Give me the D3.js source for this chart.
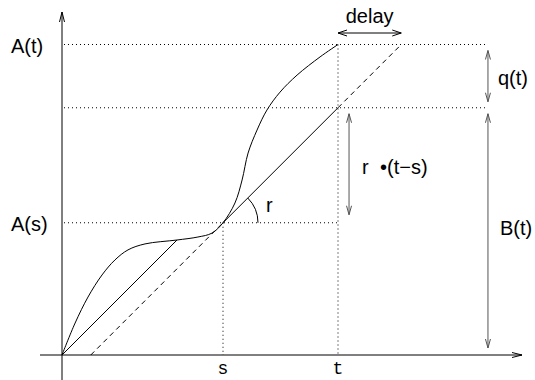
<!DOCTYPE html>
<html>
<head>
<meta charset="utf-8">
<script src="https://cdn.jsdelivr.net/npm/d3@7"></script>
<style>
  body { margin: 0; background: #fff; }
  text { font-family: "Liberation Sans", Arial, sans-serif; fill: #000; }
  .mono { font-family: "Liberation Mono", "Courier New", monospace; }
</style>
</head>
<body>
<div id="graph"></div>
<script>
// time instants on the x axis
const timeMarks = [
  { label: "s", value: 7 },
  { label: "t", value: 12 }
];
// levels on the y axis
const levelMarks = [
  { label: "A(s)", value: 5.75 },
  { label: "", value: 10.75 },
  { label: "A(t)", value: 13.5 }
];
const rate = 1;
// cumulative arrival curve A(x)
const arrivalCurve = [
  [0, 0], [0.57, 1.39], [1.13, 2.52], [1.74, 3.48], [2.3, 4.13],
  [2.87, 4.57], [3.61, 4.83], [5, 5], [5.91, 5.13], [6.52, 5.3],
  [7, 5.75], [7.52, 6.61], [7.83, 7.61], [8.09, 8.78], [8.48, 9.78],
  [8.91, 10.65], [9.48, 11.43], [10.22, 12.17], [11.22, 12.96], [12, 13.5]
];
// chord from origin touching the curve
const chord = [[0, 0], [5, 5]];

const width = 535, height = 380;

const svg = d3.select("#graph")
  .append("svg")
  .attr("width", width)
  .attr("height", height);

const x = d3.scaleLinear().domain([0, 20]).range([62, 522]);
const y = d3.scaleLinear().domain([0, 15]).range([355, 10]);

const sT = timeMarks[0].value, tT = timeMarks[1].value;
const As = levelMarks[0].value, Bt = levelMarks[1].value, At = levelMarks[2].value;
const xRight = 18.52;

//draw a straight line with open arrow heads at either end
function arrow(x1, y1, x2, y2, opts) {
  const g = svg.append("g")
    .attr("stroke", opts.color || "#000")
    .attr("stroke-width", 1)
    .attr("fill", "none");
  g.append("line").attr("x1", x1).attr("y1", y1).attr("x2", x2).attr("y2", y2);
  const len = opts.len || 9, hw = opts.hw || 3;
  const head = (px, py, qx, qy) => {
    const a = Math.atan2(py - qy, px - qx);
    const c = Math.cos(a), s = Math.sin(a);
    g.append("path").attr("d",
      "M" + (px - len * c + hw * s) + "," + (py - len * s - hw * c) +
      "L" + px + "," + py +
      "L" + (px - len * c - hw * s) + "," + (py - len * s + hw * c));
  };
  if (opts.end) head(x2, y2, x1, y1);
  if (opts.start) head(x1, y1, x2, y2);
}

// axes
arrow(x(0), 380, x(0), y(15) + 2, { end: true, len: 10, hw: 2.5 });
arrow(40, y(0), x(20), y(0), { end: true, len: 10, hw: 2.5 });

// dotted guide lines
const dotted = svg.append("g")
  .attr("stroke", "#000")
  .attr("stroke-width", 1)
  .attr("stroke-dasharray", "1,3");
dotted.append("line").attr("x1", x(0) + 2).attr("x2", x(xRight)).attr("y1", y(At)).attr("y2", y(At));
dotted.append("line").attr("x1", x(0) + 2).attr("x2", x(xRight)).attr("y1", y(Bt)).attr("y2", y(Bt));
dotted.append("line").attr("x1", x(0) + 2).attr("x2", x(tT)).attr("y1", y(As)).attr("y2", y(As));
dotted.append("line").attr("x1", x(sT)).attr("x2", x(sT)).attr("y1", y(As)).attr("y2", y(0));
dotted.append("line").attr("x1", x(tT)).attr("x2", x(tT)).attr("y1", y(At)).attr("y2", y(0));

// rate-r line through (s, A(s))
const rateLine = (u) => As + rate * (u - sT);
const xStart = sT - As / rate;
const xEnd = sT + (At - As) / rate;
const line = d3.line().x(d => x(d[0])).y(d => y(d[1]));

svg.append("path")
  .attr("d", line([[xStart, 0], [sT, rateLine(sT)]]))
  .attr("stroke", "#000").attr("fill", "none").attr("stroke-dasharray", "5,4");
svg.append("path")
  .attr("d", line([[tT, rateLine(tT)], [xEnd, At]]))
  .attr("stroke", "#000").attr("fill", "none").attr("stroke-dasharray", "5,4");
svg.append("path")
  .attr("d", line([[sT, rateLine(sT)], [tT, rateLine(tT)]]))
  .attr("stroke", "#000").attr("fill", "none");

// chord
svg.append("path")
  .attr("d", line(chord))
  .attr("stroke", "#000").attr("fill", "none");

// arrival curve
svg.append("path")
  .attr("d", d3.line().x(d => x(d[0])).y(d => y(d[1])).curve(d3.curveCatmullRom.alpha(0.5))(arrivalCurve))
  .attr("stroke", "#000").attr("fill", "none");

// angle marker r
const p = d3.path();
p.arc(x(sT), y(As), 35, -Math.PI / 4, 0);
svg.append("path").attr("d", p.toString()).attr("stroke", "#000").attr("fill", "none");
svg.append("text").attr("x", 266).attr("y", 212).attr("font-size", 20).text("r");

// delay arrow
arrow(x(tT), 33, x(xEnd), 33, { start: true, end: true, len: 9, hw: 3 });
svg.append("text").attr("x", (x(tT) + x(xEnd)) / 2).attr("y", 23)
  .attr("text-anchor", "middle").attr("font-size", 20).text("delay");

// gray brace arrows
const gray = "#555";
arrow(x(xRight), y(At) + 6, x(xRight), y(Bt) - 6, { start: true, end: true, color: gray, len: 9, hw: 2.5 });
arrow(x(xRight), y(Bt) + 6, x(xRight), y(0) - 7, { start: true, end: true, color: gray, len: 9, hw: 2.5 });
arrow(x(12.48), y(Bt) + 6, x(12.48), y(As) - 8, { start: true, end: true, color: gray, len: 9, hw: 2.5 });

svg.append("text").attr("x", 498).attr("y", 85).attr("font-size", 20).text("q(t)");
svg.append("text").attr("x", 500).attr("y", 235).attr("font-size", 20).text("B(t)");
svg.append("text").attr("x", 362).attr("y", 174).attr("font-size", 20).text("r");
svg.append("text").attr("x", 380).attr("y", 174).attr("font-size", 20).text("\u2022(t\u2212s)");

// y labels
svg.selectAll(".ylab")
  .data(levelMarks.filter(d => d.label))
  .enter()
  .append("text")
  .attr("x", 11)
  .attr("y", d => y(d.value) + 8)
  .attr("font-size", 20)
  .text(d => d.label);

// x labels
svg.selectAll(".xlab")
  .data(timeMarks)
  .enter()
  .append("text")
  .attr("class", "mono")
  .attr("x", d => x(d.value))
  .attr("y", 374)
  .attr("text-anchor", "middle")
  .attr("font-size", 18)
  .text(d => d.label);
</script>
</body>
</html>
